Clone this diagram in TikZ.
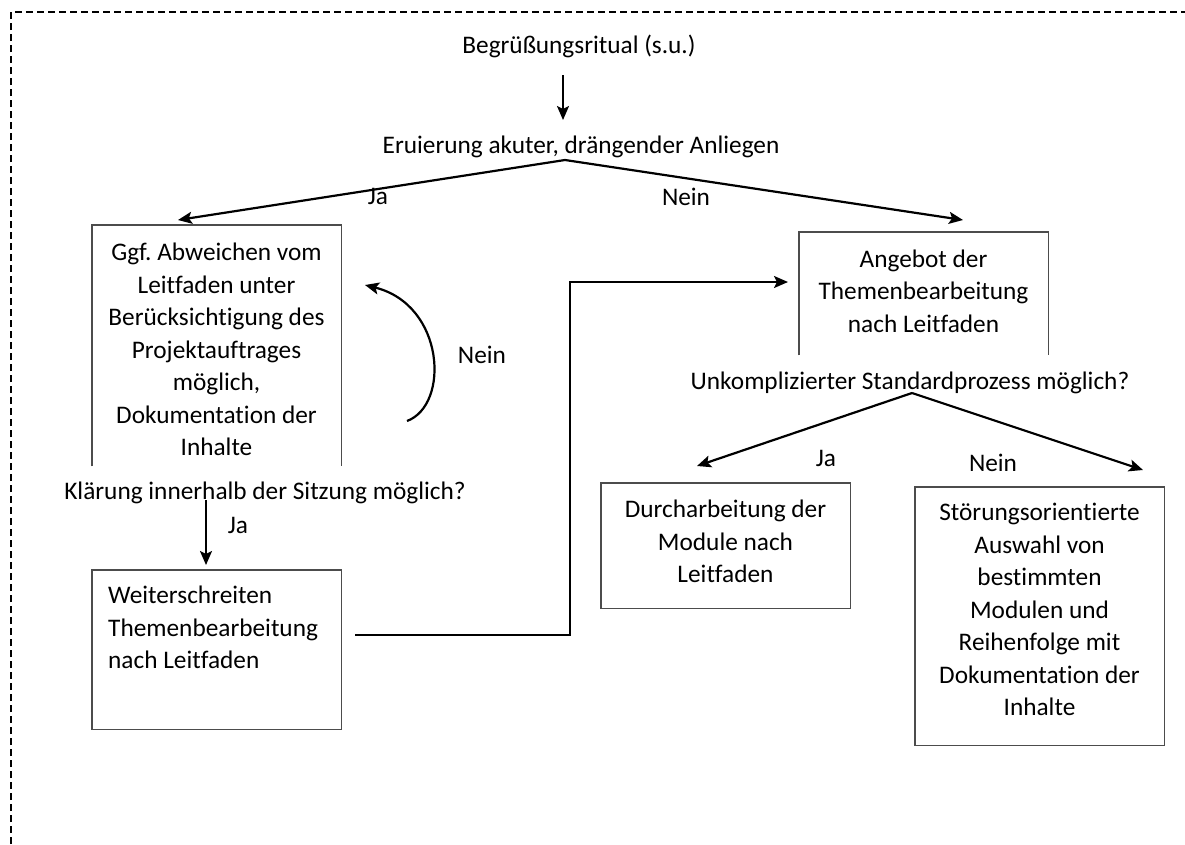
\documentclass[tikz,border=0pt]{standalone}
\usepackage{fontspec}
\setmainfont{Carlito}[Ligatures={NoCommon}]
\usetikzlibrary{arrows.meta,calc}
\frenchspacing
\begin{document}
\begin{tikzpicture}[x=1pt,y=-1pt,
  every node/.style={font=\fontsize{25.3}{32.5}\selectfont, inner sep=0pt, text=black},
  txt/.style={align=center},
  frame/.style={draw=black!70, line width=1.2pt},
  conn/.style={line width=2.2pt, -{Stealth[length=14pt,width=12pt,inset=3pt]}},
  bx/.style={draw=none, minimum width=249pt, anchor=north west},
]
\useasboundingbox (0,0) rectangle (1185,844);
\draw[line width=2.6pt, dash pattern=on 7pt off 4pt] (11,844) -- (11,12) -- (1185,12);

% texts
\node (beg) at (579,46.5) {Begrüßungsritual (s.u.)};
\node (eru) at (581,146.5) {Eruierung akuter, drängender Anliegen};
\node (kla) at (265,492.5) {Klärung innerhalb der Sitzung möglich?};
\node (unk) at (910,382.5) {Unkomplizierter Standardprozess möglich?};

% boxes
\node[bx, minimum height=241pt] (b1) at (92,225) {};
\node[bx, minimum height=123pt] (b2) at (799,232) {};
\node[bx, minimum height=159pt] (b3) at (92,570) {};
\node[bx, minimum height=125pt] (b4) at (601,483) {};
\node[bx, minimum height=258pt] (b5) at (915,487) {};

\draw[frame] (b1.south west) -- (b1.north west) -- (b1.north east) -- (b1.south east);
\draw[frame] (b2.south west) -- (b2.north west) -- (b2.north east) -- (b2.south east);
\draw[frame] (b3.south west) rectangle (b3.north east);
\draw[frame] (b4.south west) rectangle (b4.north east);
\draw[frame] (b5.south west) rectangle (b5.north east);

\node[txt] (t1) at (216.5,349.5) {Ggf. Abweichen vom\\Leitfaden unter\\Berücksichtigung des\\Projektauftrages\\möglich,\\Dokumentation der\\Inhalte};
\node[txt] (t2) at (923.5,291) {Angebot der\\Themenbearbeitung\\nach Leitfaden};
\node[align=left, anchor=west] (t3) at (108,627.5) {Weiterschreiten\\Themenbearbeitung\\nach Leitfaden};
\node[txt] (t4) at (725.5,541.5) {Durcharbeitung der\\Module nach\\Leitfaden};
\node[txt] (t5) at (1039.5,609.5) {Störungsorientierte\\Auswahl von\\bestimmten\\Modulen und\\Reihenfolge mit\\Dokumentation der\\Inhalte};

% labels
\node (ja1) at (378,196.5) {Ja};
\node (ne1) at (686,196.5) {Nein};
\node (ne2) at (482,354.5) {Nein};
\node (ja2) at (238,525.5) {Ja};
\node (ja3) at (826,458.5) {Ja};
\node (ne3) at (993,462.5) {Nein};

% connector points
\coordinate (p1) at (563,75);
\coordinate (p2) at (563,120);
\coordinate (p3) at (565,160);
\coordinate (p4) at (178,220);
\coordinate (p5) at (963,220);
\coordinate (p6) at (407,421);
\coordinate (p7) at (365,285);
\coordinate (p8) at (206,500);
\coordinate (p9) at (206,565);
\coordinate (p10) at (355,635);
\coordinate (p11) at (788,282);
\coordinate (p12) at (912,393);
\coordinate (p13) at (697,466);
\coordinate (p14) at (1143,470);

\draw[conn] (p1) -- (p2);
\draw[conn] (p3) -- (p4);
\draw[conn] (p3) -- (p5);
\draw[conn] (p6) .. controls (450,405) and (445,305) .. (p7);
\draw[conn] (p8) -- (p9);
\draw[conn] (p10) -- (570,635) -- (570,282) -- (p11);
\draw[conn] (p12) -- (p13);
\draw[conn] (p12) -- (p14);
\end{tikzpicture}
\end{document}
